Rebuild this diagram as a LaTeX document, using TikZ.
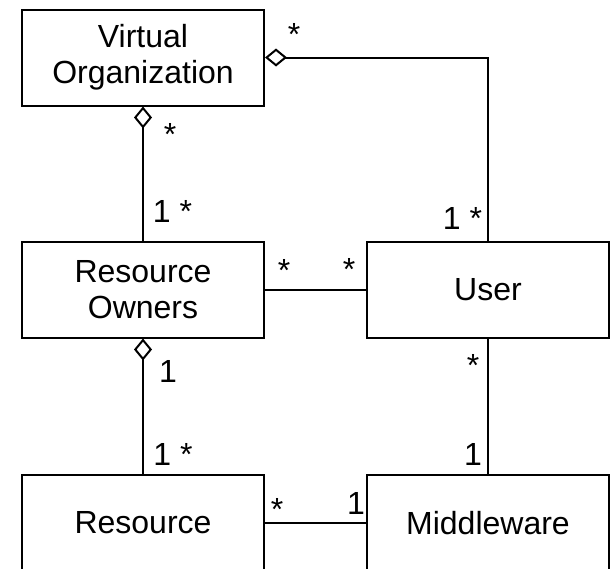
\documentclass[tikz,border=0pt]{standalone}
\usepackage{fontspec}
\setmainfont{Liberation Sans}
\usetikzlibrary{arrows.meta}

\tikzset{
  cls/.style={draw, rectangle, line width=1pt, minimum width=121pt, minimum height=48pt,
    inner sep=0pt, align=center, font=\fontsize{16}{18}\selectfont},
  mult/.style={anchor=base, inner sep=0pt, font=\fontsize{16}{18}\selectfont},
  agg/.style={{Diamond[open, length=11pt, width=9pt]}-, line width=1pt},
  assoc/.style={line width=1pt},
}

\begin{document}
\begin{tikzpicture}[x=0.5pt, y=-0.5pt]
    \useasboundingbox (0,0) rectangle (610,568);
    \clip (0,0) rectangle (610,568);

    % classes
    \node[cls] (vo) at (143,57.5) {Virtual\\Organization};
    \node[cls] (owners) at (143,289.5) {Resource\\Owners};
    \node[cls] (user) at (488,289.5) {User};
    \node[cls] (res) at (143,523) {Resource};
    \node[cls] (mw) at (488,523) {Middleware};

    % associations
    \draw[agg] (vo.east) -| (user.north);
    \draw[agg] (vo) -- (owners);
    \draw[agg] (owners) -- (res);
    \draw[assoc] (owners) -- (user);
    \draw[assoc] (user) -- (mw);
    \draw[assoc] (res) -- (mw);

    % multiplicities
    \node[mult] (m1) at (294,45) {*};
    \node[mult] (m2) at (462.5,229) {1 *};
    \node[mult] (m3) at (170,145) {*};
    \node[mult] (m4) at (172.5,222) {1 *};
    \node[mult] (m5) at (284,281) {*};
    \node[mult] (m6) at (349,280) {*};
    \node[mult] (m7) at (168,382) {1};
    \node[mult] (m8) at (173,465) {1 *};
    \node[mult] (m9) at (473,376) {*};
    \node[mult] (m10) at (473,465) {1};
    \node[mult] (m11) at (277,520) {*};
    \node[mult] (m12) at (356,514) {1};
\end{tikzpicture}
\end{document}
